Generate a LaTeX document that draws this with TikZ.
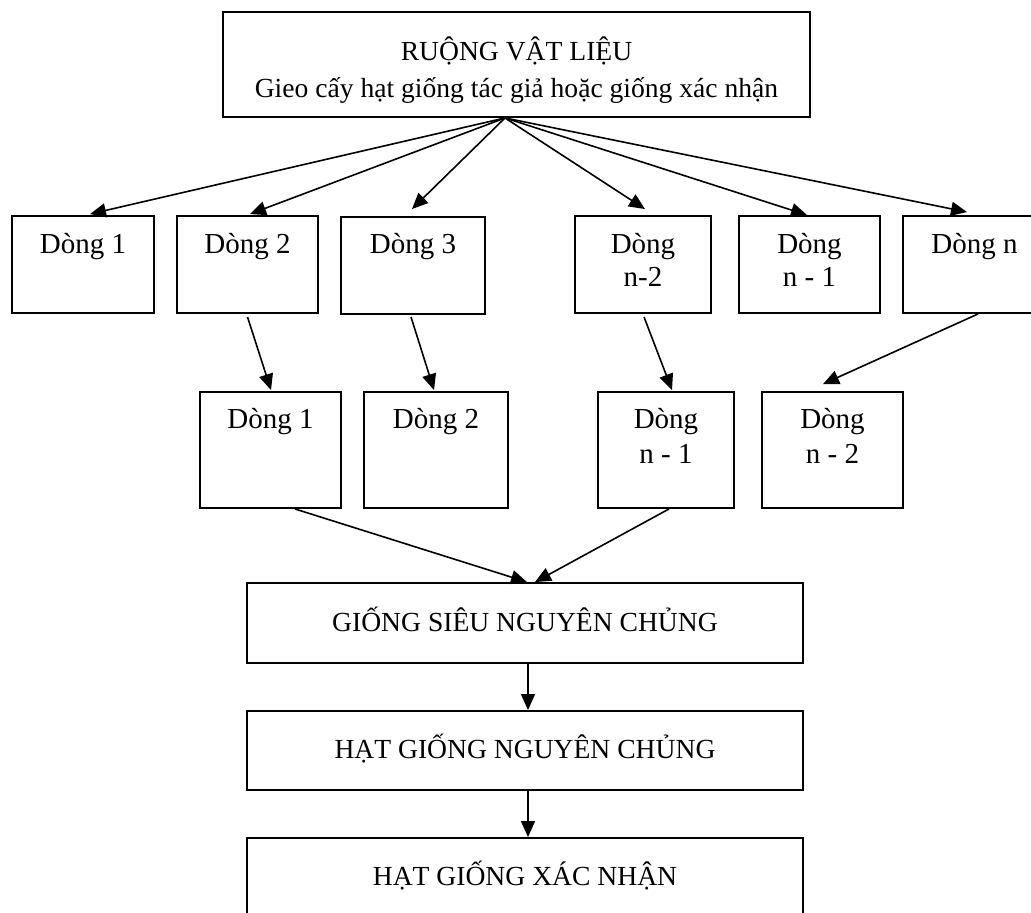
\documentclass[tikz,border=0pt]{standalone}
\usepackage{fontspec}
\setmainfont{Liberation Serif}
\usetikzlibrary{arrows.meta,calc}
\tikzset{
  box/.style={draw,line width=1.9pt,inner sep=0pt},
  txt/.style={anchor=base,inner sep=0pt,font=\fontsize{27.6}{33}\selectfont},
  dtxt/.style={anchor=base,inner sep=0pt,font=\fontsize{29}{34}\selectfont},
  arr/.style={line width=1.6pt,-{Triangle[length=16pt,width=14pt]}},
}
\begin{document}
\begin{tikzpicture}[x=1pt,y=-1pt]
\useasboundingbox (0,0) rectangle (1031,913);
% boxes
\node[box,minimum width=587pt,minimum height=105pt] (top) at (516.5,64.5) {};
\node[box,minimum width=142pt,minimum height=97pt] (r1a) at (83,264.5) {};
\node[box,minimum width=141pt,minimum height=97pt] (r1b) at (247.5,264.5) {};
\node[box,minimum width=144pt,minimum height=97pt] (r1c) at (413,265.5) {};
\node[box,minimum width=136pt,minimum height=97pt] (r1d) at (643,264.5) {};
\node[box,minimum width=141pt,minimum height=97pt] (r1e) at (809.5,264.5) {};
\node[box,minimum width=143pt,minimum height=97pt] (r1f) at (974.5,264.5) {};
\node[box,minimum width=141pt,minimum height=116pt] (r2a) at (270.5,450) {};
\node[box,minimum width=144pt,minimum height=116pt] (r2b) at (436,450) {};
\node[box,minimum width=136pt,minimum height=116pt] (r2c) at (666,450) {};
\node[box,minimum width=141pt,minimum height=116pt] (r2d) at (832.5,450) {};
\node[box,minimum width=556pt,minimum height=80pt] (gsnc) at (525,623) {};
\node[box,minimum width=556pt,minimum height=79pt] (hgnc) at (525,750.5) {};
\node[box,minimum width=556pt,minimum height=84pt] (hgxn) at (525,880) {};
% texts
\node[txt] (t1) at (516.5,60) {RUỘNG VẬT LIỆU};
\node[txt] (t2) at (516.5,97) {Gieo cấy hạt giống tác giả hoặc giống xác nhận};
\node[dtxt] (a1) at (83,253) {Dòng 1};
\node[dtxt] (b1) at (247.5,253) {Dòng 2};
\node[dtxt] (c1) at (413,253) {Dòng 3};
\node[dtxt] (d1) at (643,253) {Dòng};
\node[dtxt] (d2) at (643,286) {n-2};
\node[dtxt] (e1) at (809.5,253) {Dòng};
\node[dtxt] (e2) at (809.5,286) {n - 1};
\node[dtxt] (f1) at (974.5,253) {Dòng n};
\node[dtxt] (g1) at (270.5,428) {Dòng 1};
\node[dtxt] (h1) at (436,428) {Dòng 2};
\node[dtxt] (i1) at (666,428) {Dòng};
\node[dtxt] (i2) at (666,463) {n - 1};
\node[dtxt] (j1) at (832.5,428) {Dòng};
\node[dtxt] (j2) at (832.5,463) {n - 2};
\node[txt] (k1) at (525,631) {GIỐNG SIÊU NGUYÊN CHỦNG};
\node[txt] (l1) at (525,758) {HẠT GIỐNG NGUYÊN CHỦNG};
\node[txt] (m1) at (525,885) {HẠT GIỐNG XÁC NHẬN};
% connectors
\coordinate (src) at ($(top.south)+(-11.5,0)$);
\draw[arr] (src) -- ($(r1a.north)+(7,-1)$);
\draw[arr] (src) -- ($(r1b.north)+(2.5,-1)$);
\draw[arr] (src) -- ($(r1c.north)+(-1,-7)$);
\draw[arr] (src) -- ($(r1d.north)+(2,-6)$);
\draw[arr] (src) -- ($(r1e.north)+(-2.5,0)$);
\draw[arr] (src) -- ($(r1f.north)+(-7.5,-3)$);
\draw[arr] ($(r1b.south)+(0,3)$) -- ($(r2a.north)+(0.5,-1)$);
\draw[arr] ($(r1c.south)+(-2,2)$) -- ($(r2b.north)+(-2,-1)$);
\draw[arr] ($(r1d.south)+(1,3)$) -- ($(r2c.north)+(6,-1)$);
\draw[arr] ($(r1f.south)+(3.5,0)$) -- ($(r2d.north)+(-9.5,-7)$);
\draw[arr] ($(r2a.south)+(24.5,0)$) -- ($(gsnc.north)+(2,0)$);
\draw[arr] ($(r2c.south)+(3,0)$) -- ($(gsnc.north)+(10,0)$);
\draw[arr] ($(gsnc.south)+(3,0)$) -- ($(hgnc.north)+(3,0)$);
\draw[arr] ($(hgnc.south)+(3,0)$) -- ($(hgxn.north)+(3,0)$);
\end{tikzpicture}
\end{document}
